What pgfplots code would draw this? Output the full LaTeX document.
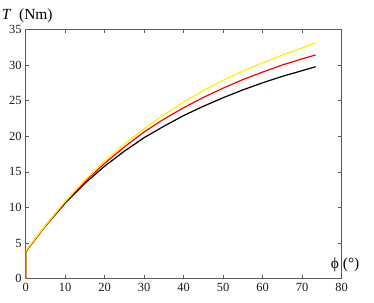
\documentclass[border=0pt]{standalone}
\usepackage{fontspec}
\setmainfont{Liberation Serif}
\usepackage{pgfplots}
\pgfplotsset{compat=1.18}
\begin{document}
\begin{tikzpicture}
\begin{axis}[
  name=ax,
  scale only axis,
  clip mode=individual,
  width=316bp, height=249.4bp,
  xmin=0, xmax=80, ymin=0, ymax=35,
  xtick={0,10,...,80}, ytick={0,5,...,35},
  tick align=inside,
  major tick length=3.5bp,
  axis line style={black!65, line width=0.5bp},
  tick style={black!65, line width=0.5bp},
  every tick label/.append style={font=\fontsize{12.5}{13}\selectfont, text=black!90},
  /pgf/number format/assume math mode=true,
  xticklabel style={yshift=-1bp},
  yticklabel style={xshift=-0.5bp},
]
\addplot[black, line width=1.2bp] coordinates {
(0,0) (0,3.8) (5,7.4) (10,10.6) (15,13.4) (20,15.8) (25,17.9) (30,19.8) (35,21.4) (40,22.9) (45,24.2) (50,25.4) (55,26.5) (60,27.5) (65,28.4) (70,29.2) (73.4,29.75)};
\addplot[red, line width=1.2bp] coordinates {
(0,0) (0,3.8) (5,7.45) (10,10.75) (15,13.65) (20,16.2) (25,18.5) (30,20.6) (35,22.4) (40,24.0) (45,25.45) (50,26.75) (55,27.95) (60,29.0) (65,30.0) (70,30.85) (73.4,31.4)};
\addplot[yellow, line width=1.2bp] coordinates {
(0,0) (0,3.9) (5,7.5) (10,10.85) (15,13.85) (20,16.5) (25,18.9) (30,21.1) (35,23.0) (40,24.8) (45,26.4) (50,27.85) (55,29.15) (60,30.3) (65,31.4) (70,32.4) (73.4,33.1)};
\end{axis}
\node[anchor=base west, font=\fontsize{15.5}{16}\selectfont, inner sep=0pt] at ([xshift=-24bp, yshift=9.5bp]ax.north west) {\textit{T}\ \ (Nm)};
\node[anchor=base west, font=\fontsize{15.5}{16}\selectfont, inner sep=0pt] at ([xshift=-11bp, yshift=10.5bp]ax.south east) {ϕ\ (°)};
\pgfresetboundingbox
\useasboundingbox (ax.south west) ++(-25.7bp,-24.3bp) rectangle ++(374bp,303bp);
\end{tikzpicture}
\end{document}
